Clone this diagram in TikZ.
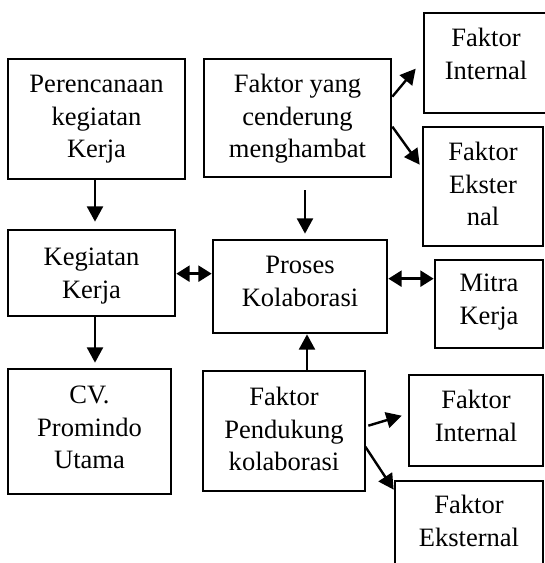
\documentclass[tikz,border=0pt]{standalone}
\usepackage{fontspec}
\setmainfont{Liberation Serif}
\usetikzlibrary{arrows.meta,fit,calc}
\begin{document}
\begin{tikzpicture}[x=0.75pt,y=-0.75pt,
  box/.style={draw, line width=2pt, inner sep=0pt},
  txt/.style={align=center, inner sep=0pt, anchor=north, font=\fontsize{19.9pt}{24.4pt}\selectfont},
  arr/.style={line width=1.8pt, -{Triangle[length=11.5pt,width=12pt]}},
  darr/.style={line width=1.8pt, {Triangle[length=10pt,width=12pt]}-{Triangle[length=10pt,width=12pt]}}]
\useasboundingbox (0,0) rectangle (545,563);
\clip (0,0) rectangle (545,563);
\fill[white] (0,0) rectangle (545,563);

\node[box, fit={(8,59) (185,179)}] (perenc) {};
\node[txt] (perencT) at ($(perenc.north)+(0,12)$) {\strut Perencanaan\\kegiatan\\Kerja};

\node[box, fit={(204,59) (391,177)}] (hambat) {};
\node[txt] (hambatT) at ($(hambat.north)+(0,12)$) {\strut Faktor yang\\cenderung\\menghambat};

\node[box, fit={(424,13) (548,113)}] (intA) {};
\node[txt] (intAT) at ($(intA.north)+(0,12)$) {\strut Faktor\\Internal};

\node[box, fit={(423,127) (543,246)}] (extA) {};
\node[txt] (extAT) at ($(extA.north)+(0,12)$) {\strut Faktor\\Ekster\\nal};

\node[box, fit={(8,230) (175,316)}] (keg) {};
\node[txt] (kegT) at ($(keg.north)+(0,14)$) {\strut Kegiatan\\Kerja};

\node[box, fit={(213,240) (387,333)}] (proses) {};
\node[txt] (prosesT) at ($(proses.north)+(0,12)$) {\strut Proses\\Kolaborasi};

\node[box, fit={(435,260) (543,348)}] (mitra) {};
\node[txt] (mitraT) at ($(mitra.north)+(0,10)$) {\strut Mitra\\Kerja};

\node[box, fit={(8,369) (171,494)}] (cv) {};
\node[txt] (cvT) at ($(cv.north)+(0,13)$) {\strut CV.\\Promindo\\Utama};

\node[box, fit={(203,371) (365,491)}] (dukung) {};
\node[txt] (dukungT) at ($(dukung.north)+(0,13)$) {\strut Faktor\\Pendukung\\kolaborasi};

\node[box, fit={(409,375) (543,466)}] (intB) {};
\node[txt] (intBT) at ($(intB.north)+(0,12)$) {\strut Faktor\\Internal};

\node[box, fit={(395,481) (543,580)}] (extB) {};
\node[txt] (extBT) at ($(extB.north)+(0,11)$) {\strut Faktor\\Eksternal};

% arrows
\draw[arr] ($(perenc.south)+(-1.5,0)$) -- ($(perenc.south |- keg.north)+(-1.5,-7)$);
\draw[arr] ($(hambat.south)+(7.5,12)$) -- ($(hambat.south |- proses.north)+(7.5,-5)$);
\draw[arr] ($(hambat.north east)+(0,39)$) -- ($(intA.north west)+(-7,57)$);
\draw[arr] ($(hambat.north east)+(0,69)$) -- ($(extA.north west)+(-2,39)$);
\draw[darr] ($(keg.north east)+(0,45)$) -- ($(keg.north east -| proses.west)+(0,45)$);
\draw[darr] ($(proses.north east)+(0,40)$) -- ($(proses.north east -| mitra.west)+(0,40)$);
\draw[arr] ($(keg.south)+(3.5,0)$) -- ($(keg.south |- cv.north)+(3.5,-5)$);
\draw[arr] ($(dukung.north)+(23,0)$) -- ($(dukung.north |- proses.south)+(23,0)$);
\draw[arr] ($(dukung.north east)+(2,56)$) -- ($(intB.north west)+(-6,42)$);
\draw[arr] ($(dukung.north east)+(-1,77)$) -- ($(extB.north west)+(0,10)$);
\end{tikzpicture}
\end{document}
